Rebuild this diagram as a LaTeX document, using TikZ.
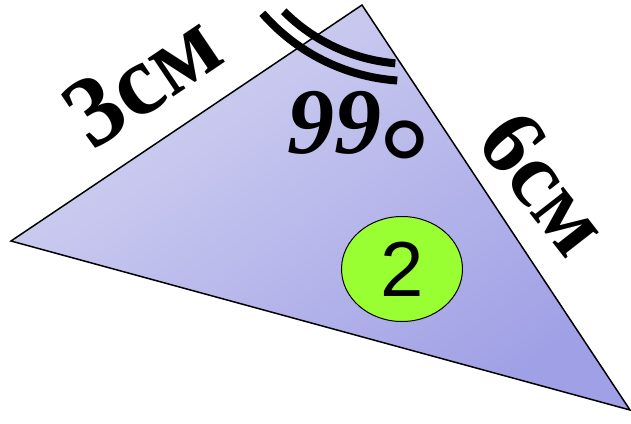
\documentclass[tikz,border=0pt]{standalone}
\usepackage{fontspec}
\setmainfont{Liberation Serif}
\newfontfamily\arialf{Liberation Sans}
\usetikzlibrary{calc,shapes.geometric}
\definecolor{triA}{RGB}{212,212,242}
\definecolor{triB}{RGB}{160,160,230}
\definecolor{lime}{RGB}{153,255,51}
\tikzset{
  edgelabel/.style={font=\fontsize{100}{100}\selectfont\bfseries, inner sep=0pt},
  anglearc/.style={line width=8pt, line cap=butt},
}
\begin{document}
\begin{tikzpicture}[x=1pt,y=-1pt]
\useasboundingbox (0,0) rectangle (631,423);
\coordinate (A) at (11,241);
\coordinate (B) at (362,5);
\coordinate (C) at (630,410);
\path[draw=black, line width=1.5pt, left color=triA, right color=triB, shading angle=35] (A)--(B)--(C)--cycle;
\coordinate (O) at (411,-116);
\draw[anglearc] ($(O)+(135:180)$) arc[start angle=135, end angle=95, radius=180];
\draw[anglearc] ($(O)+(139:197)$) arc[start angle=139, end angle=94, radius=197];
\node[edgelabel, rotate=34, anchor=center] (l1) at (142,79) {3см};
\node[edgelabel, font=\fontsize{93}{93}\selectfont\bfseries, rotate=-52, anchor=center] (l2) at (545,183) {6см};
\node[inner sep=0pt, anchor=base west, font=\fontsize{94}{94}\selectfont\bfseries\itshape] (ang) at (287,153) {99\hspace{-4pt}\raisebox{-63pt}{\arialf\mdseries\upshape\fontsize{137}{137}\selectfont °}};
\node[ellipse, draw=black, line width=1pt, fill=lime, minimum width=121pt, minimum height=105pt, inner sep=0pt, font=\arialf\fontsize{78}{78}\selectfont] (n2) at (402,269) {2};
\end{tikzpicture}
\end{document}
